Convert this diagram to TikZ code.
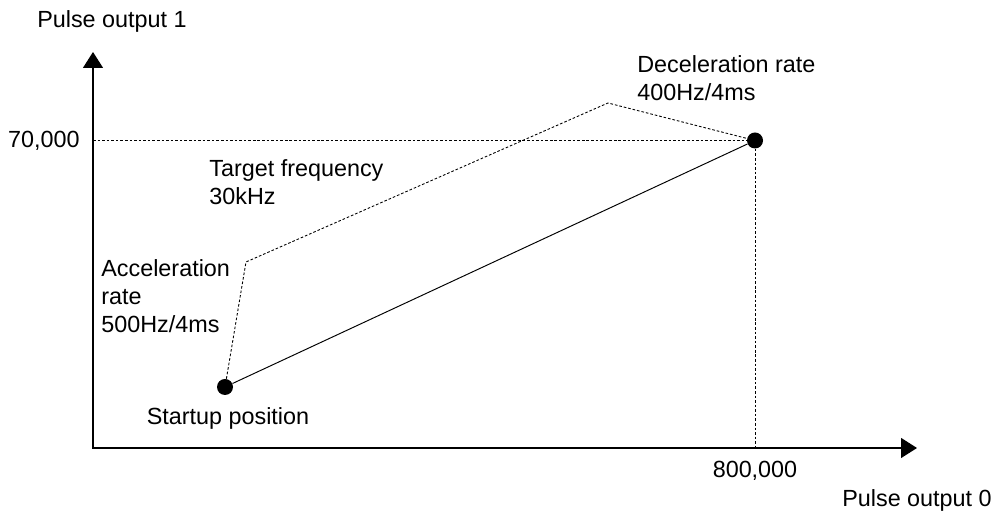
\documentclass[tikz,border=0pt]{standalone}
\usepackage{fontspec}
\setmainfont{Liberation Sans}
\usepackage{tikz}
\usetikzlibrary{arrows.meta,positioning}
\newcommand{\lbl}{\fontsize{13.3pt}{15.9pt}\selectfont}

\begin{document}
\begin{tikzpicture}[
		>={Triangle[length=0.32cm,width=0.40cm]},
		axis/.style={<->, line width=0.7pt},
		guide/.style={line width=0.5pt, dash pattern=on 1.5pt off 1.1pt},
		track/.style={line width=0.55pt},
		dot/.style={circle, fill=black, inner sep=0pt, minimum size=0.32cm},
		txt/.style={align=left, inner sep=0pt, font=\lbl}
		]
		
		\useasboundingbox (0,0) rectangle (19.88,10.28);
		
		% --------------------------------------------------
		% Axes
		% --------------------------------------------------
		\coordinate (O) at (1.86,1.32);
		\coordinate (Ytip) at (1.86,9.24);
		\coordinate (Xtip) at (18.34,1.32);
		\coordinate (Yt) at (1.86,7.47);
		\coordinate (Xt) at (15.10,1.32);
		
		\draw[axis] (Ytip) -- (O) -- (Xtip);
		
		\node[txt, above=0.38cm of Ytip, xshift=0.38cm] (yname) {Pulse output 1};
		\node[txt, below=0.82cm of Xtip] (xname) {Pulse output 0};
		\node[txt, left=0.26cm of Yt] (yval) {70,000};
		\node[txt, below=0.26cm of Xt] (xval) {800,000};
		
		% --------------------------------------------------
		% Start and end points
		% --------------------------------------------------
		\node[dot] (S) at (4.50,2.54) {};
		\node[dot] (T) at (15.10,7.47) {};
		
		\draw[guide] (Yt) -- (T);
		\draw[guide] (T) -- (Xt);
		
		\draw[track] (S) -- (T);
		
		% speed profile
		\coordinate (A1) at (4.92,5.04);
		\coordinate (A2) at (12.16,8.22);
		\draw[guide] (S) -- (A1) -- (A2) -- (T);
		
		% --------------------------------------------------
		% Labels
		% --------------------------------------------------
		\node[txt, below=0.24cm of S, xshift=0.06cm] (start) {Startup position};
		\node[txt, anchor=west] (acc) at (2.02,4.35) {Acceleration\\rate\\500Hz/4ms};
		\node[txt, anchor=west] (tgt) at (4.18,6.63) {Target frequency\\30kHz};
		\node[txt, anchor=west] (dec) at (12.74,8.71) {Deceleration rate\\400Hz/4ms};
		
	\end{tikzpicture}
\end{document}
